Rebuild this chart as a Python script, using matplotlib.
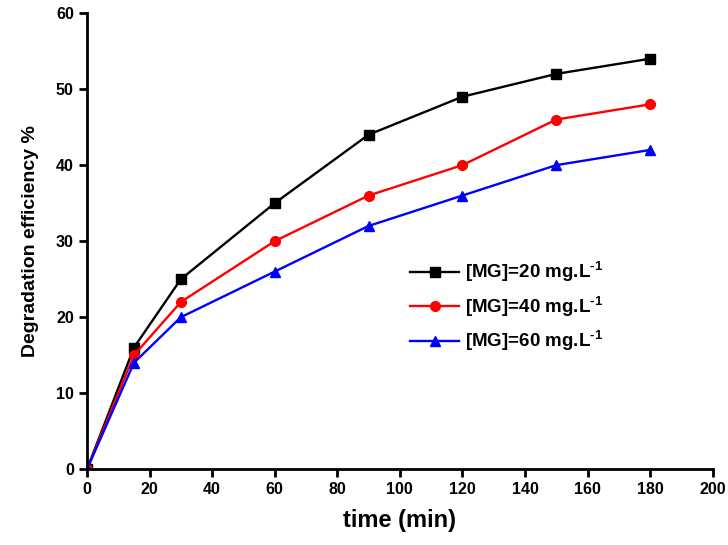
import matplotlib
matplotlib.use("Agg")
import matplotlib.pyplot as plt

time = [0, 15, 30, 60, 90, 120, 150, 180]
mg20 = [0, 16, 25, 35, 44, 49, 52, 54]
mg40 = [0, 15, 22, 30, 36, 40, 46, 48]
mg60 = [0, 14, 20, 26, 32, 36, 40, 42]
labels = [r'[MG]=20 mg.L$^{\text{-1}}$', r'[MG]=40 mg.L$^{\text{-1}}$', r'[MG]=60 mg.L$^{\text{-1}}$']

plt.rcParams['font.family'] = ['Liberation Sans', 'DejaVu Sans']
plt.rcParams['font.weight'] = 'bold'
plt.rcParams['mathtext.fontset'] = 'custom'
plt.rcParams['mathtext.rm'] = 'Liberation Sans:bold'
plt.rcParams['mathtext.bf'] = 'Liberation Sans:bold'
plt.rcParams['mathtext.it'] = 'Liberation Sans:bold'

fig = plt.figure(figsize=(7.28, 5.45), dpi=100)
ax = fig.add_axes([0.1195, 0.139, 0.8595, 0.837])

ax.plot(time, mg20, color='black', marker='s', markersize=7, lw=1.7, label=labels[0])
ax.plot(time, mg40, color='red', marker='o', markersize=7, lw=1.7, label=labels[1])
ax.plot(time, mg60, color='blue', marker='^', markersize=7, lw=1.7, label=labels[2])

ax.set_xlim(0, 200)
ax.set_ylim(0, 60)
ax.set_xticks(range(0, 201, 20))
ax.set_yticks(range(0, 61, 10))
for s in ['top', 'right']:
    ax.spines[s].set_visible(False)
for s in ['left', 'bottom']:
    ax.spines[s].set_linewidth(2)
ax.tick_params(width=2, length=6, labelsize=11.5, direction='out')
for lab in ax.get_xticklabels() + ax.get_yticklabels():
    lab.set_fontweight('bold')

ax.set_xlabel('time (min)', fontsize=17, fontweight='bold', labelpad=8)
ax.set_ylabel('Degradation efficiency %', fontsize=14, fontweight='bold', labelpad=12)

leg = ax.legend(loc='upper left', bbox_to_anchor=(0.49, 0.495), frameon=False,
                fontsize=13.5, handlelength=2.6, labelspacing=0.55, handletextpad=0.3)
for t in leg.get_texts():
    t.set_fontweight('bold')

fig.savefig('out.png', dpi=100)
